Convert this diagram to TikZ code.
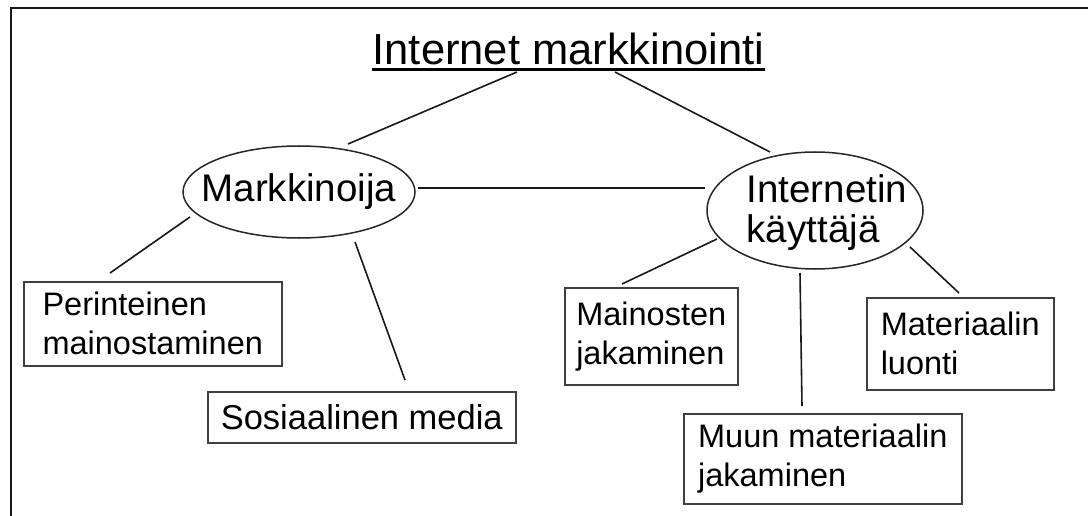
\documentclass[tikz,border=0pt]{standalone}
\usepackage{fontspec}
\setmainfont{Liberation Sans}
\usetikzlibrary{shapes.geometric}
\begin{document}
\begin{tikzpicture}[x=1pt,y=-1pt,
  frameline/.style={line width=2pt, black!90},
  link/.style={line width=1.6pt, black!90},
  bubble/.style={ellipse, draw=black!85, line width=1.5pt, inner sep=0pt,
    font=\fontsize{38.5}{39}\selectfont},
  leaf/.style={rectangle, draw=black!75, line width=1.5pt, anchor=north west,
    align=left, inner sep=0pt, font=\fontsize{32.5}{39}\selectfont}]
\useasboundingbox (0,0) rectangle (1088,516);
\fill[white] (0,0) rectangle (1088,516);

% page frame (top and left edges only)
\draw[frameline] (1088,8) -- (11,8) -- (11,516);

% heading
\node[font=\fontsize{43.5}{50}\selectfont, inner sep=0pt, anchor=base] (title) at (568.5,65) {Internet markkinointi};
\draw[line width=2.4pt] ([yshift=-4.5pt]title.base west) -- ([yshift=-4.5pt]title.base east);

% the two actors
\node[bubble, minimum width=232pt, minimum height=92pt] (mk) at (299,192) {\makebox[0pt]{Markkinoija}};
\node[bubble, minimum width=216pt, minimum height=117pt] (ik) at (815,210.5)
  {\makebox[0pt]{\hspace{24pt}\raisebox{-4pt}[\height][\depth]{\begin{tabular}{@{}l@{}}Internetin\\käyttäjä\end{tabular}}}};

% activities
\node[leaf, minimum width=258pt, minimum height=84pt] (per) at (23,281) {Perinteinen\\mainostaminen};
\node[leaf, minimum width=308pt, minimum height=51pt, font=\fontsize{34.5}{39}\selectfont] (sos) at (207,391) {Sosiaalinen media};
\node[leaf, minimum width=173pt, minimum height=97pt] (mai) at (564,287) {Mainosten\\jakaminen};
\node[leaf, minimum width=187pt, minimum height=92pt] (mat) at (866,297) {Materiaalin\\luonti};
\node[leaf, minimum width=278pt, minimum height=90pt] (muu) at (683,413) {Muun materiaalin\\jakaminen};

% connector end points (lines stop short of the shapes)
\coordinate (title-mk) at (517,72);
\coordinate (mk-title) at (348,144);
\coordinate (title-ik) at (615,72);
\coordinate (ik-title) at (770,152);
\coordinate (mk-ik)    at (418,188);
\coordinate (ik-mk)    at (705,188);
\coordinate (mk-per)   at (190,217);
\coordinate (per-mk)   at (110,273);
\coordinate (mk-sos)   at (355,242);
\coordinate (sos-mk)   at (405,380);
\coordinate (ik-mai)   at (717,239);
\coordinate (mai-ik)   at (622,284);
\coordinate (ik-muu)   at (800,273);
\coordinate (muu-ik)   at (802,406);
\coordinate (ik-mat)   at (910,247);
\coordinate (mat-ik)   at (959,293);

\draw[link] (title-mk) -- (mk-title);
\draw[link] (title-ik) -- (ik-title);
\draw[link] (mk-ik) -- (ik-mk);
\draw[link] (mk-per) -- (per-mk);
\draw[link] (mk-sos) -- (sos-mk);
\draw[link] (ik-mai) -- (mai-ik);
\draw[link] (ik-muu) -- (muu-ik);
\draw[link] (ik-mat) -- (mat-ik);
\end{tikzpicture}
\end{document}
